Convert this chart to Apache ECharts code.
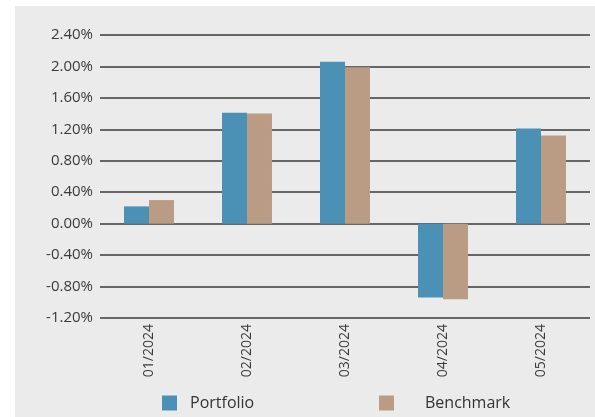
<!DOCTYPE html>
<html><head><meta charset="utf-8">
<script src="https://cdn.jsdelivr.net/npm/echarts@6/dist/echarts.min.js"></script>
<style>html,body{margin:0;padding:0;background:#fff}#c{width:595px;height:417px}</style>
</head><body><div id="c"></div>
<script>
const categories = ['01/2024','02/2024','03/2024','04/2024','05/2024'];
const portfolio = [0.22, 1.41, 2.06, -0.94, 1.21];
const benchmark = [0.30, 1.40, 1.99, -0.96, 1.12];
const font = '"Open Sans", "Noto Sans", sans-serif';
const chart = echarts.init(document.getElementById('c'), null, {renderer:'canvas'});
chart.setOption({
  animation:false,
  backgroundColor:'#fff',
  graphic:[{type:'rect', z:-10, shape:{x:15,y:6,width:580,height:411}, style:{fill:'#ebebeb'}}],
  grid:{left:100, right:5, top:35, bottom:99},
  legend:[
    {data:['Portfolio'], left:162, top:395, padding:0, itemWidth:15, itemHeight:15, icon:'rect',
     textStyle:{fontFamily:font, fontSize:16, color:'#333', padding:[0,0,0,8]}},
    {data:['Benchmark'], left:379, top:395, padding:0, itemWidth:15, itemHeight:15, icon:'rect',
     textStyle:{fontFamily:font, fontSize:16, color:'#333', padding:[0,0,0,26]}}
  ],
  xAxis:{type:'category', data:categories,
    axisLine:{show:false}, axisTick:{show:false},
    axisLabel:{rotate:90, margin:6, fontFamily:font, fontSize:14, color:'#3a3a3a'}},
  yAxis:{type:'value', min:-1.2, max:2.4, interval:0.4,
    axisLine:{show:false}, axisTick:{show:false},
    axisLabel:{margin:7, fontFamily:font, fontSize:15, color:'#3a3a3a', formatter:v=>v.toFixed(2)+'%'},
    splitLine:{lineStyle:{color:'#3a3a3a', width:1.5}}},
  series:[
    {name:'Portfolio', type:'bar', data:portfolio, barGap:'0%', barCategoryGap:'49%', itemStyle:{color:'#4b91b6'}},
    {name:'Benchmark', type:'bar', data:benchmark, itemStyle:{color:'#b99c83'}}
  ]
});
</script></body></html>
